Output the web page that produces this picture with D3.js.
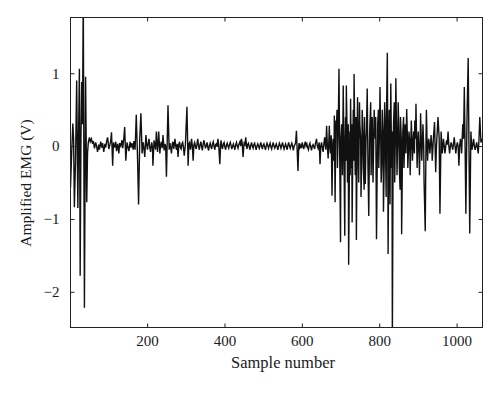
<!DOCTYPE html>
<html>
<head>
<meta charset="utf-8">
<script src="https://cdn.jsdelivr.net/npm/d3@7"></script>
<style>
  html, body { margin: 0; padding: 0; background: #fff; }
  svg { display: block; }
  text { font-family: "Liberation Serif", "DejaVu Serif", serif; fill: #1a1a1a; }
</style>
</head>
<body>
<div id="chart"></div>
<script>
// ---- data ----
const xTicks = [200, 400, 600, 800, 1000];
const yTicks = [-2, -1, 0, 1];
const xTitle = "Sample number";
const yTitle = "Amplified EMG (V)";
// [sample number, amplified EMG (V)]
const emgTrace = [
  [2,-0.57],[5,-0.1],[8,0.31],[10,0.1],[12,-0.84],[15,-0.2],[18,0.9],[21,-0.85],[23,0.2],[25,1.06],
  [27,-1.78],[29,0.1],[31,0.88],[33,0.3],[35,2.1],[38,-2.22],[41,0.95],[44,-0.77],[46,-0.1],[48,0.05],
  [51,0.12],[53,0.06],[56,0.1],[59,0.03],[61,0.07],[64,-0.03],[67,0.05],[69,0.01],[72,-0.08],[75,0.02],
  [77,-0.05],[80,0.06],[83,-0.02],[85,0.04],[88,-0.08],[91,0.03],[93,-0.02],[96,0.08],[98,0.12],[101,-0.04],
  [104,0.02],[106,0.07],[108,0.19],[111,-0.27],[113,0.05],[116,-0.02],[119,0.06],[121,-0.07],[124,0.03],[127,-0.1],
  [129,0.04],[132,0.0],[135,0.08],[137,-0.03],[140,0.12],[142,0.26],[145,-0.2],[148,0.05],[150,0.0],[153,-0.07],
  [156,0.06],[158,-0.02],[161,0.04],[164,-0.05],[166,0.07],[169,-0.05],
  [172,0.43],[175,-0.1],[178,-0.8],[181,0.1],[184,0.45],[187,-0.1],
  [190,0.05],[192,-0.04],[194,-0.15],[197,0.15],[199,0.02],[201,-0.05],[203,0.04],[205,0.1],[207,-0.02],[209,-0.08],
  [212,0.05],[214,-0.02],[215,-0.27],[218,0.08],[220,0.02],[222,-0.05],[224,0.2],[227,-0.08],[229,0.06],[230,0.2],
  [233,-0.1],[235,0.02],[237,0.06],[239,-0.03],[241,0.15],[244,-0.06],[246,0.03],[248,0.0],[250,-0.42],[254,0.56],
  [257,-0.05],[259,0.04],[261,-0.02],[263,-0.1],[265,0.03],[267,0.06],[269,-0.04],[272,0.1],[274,0.0],[276,-0.05],
  [278,0.03],[280,-0.15],[282,0.02],[284,0.06],[286,-0.02],[288,-0.04],[290,0.03],[292,0.05],[294,-0.02],[296,-0.13],
  [299,0.02],[303,0.54],[306,-0.27],[308,0.03],[310,0.05],[312,-0.05],[314,0.02],[315,0.1],[317,0.0],[319,-0.2],
  [321,0.02],[323,0.05],[325,-0.01],[327,-0.04],[329,0.03],[331,0.1],[333,0.0],[335,-0.05],[337,0.02],[339,0.06],
  [341,-0.01],[343,-0.06],[345,0.03],[347,0.08],[349,0.02],[351,-0.03],[353,0.01],[355,0.05],[357,-0.02],[359,-0.06],
  [361,0.01],[363,0.04],[365,-0.01],[367,-0.04],[369,0.03],[371,0.06],[373,0.0],[375,-0.05],[377,0.02],[379,0.03],
  [381,-0.01],[383,0.1],[385,0.02],[388,-0.25],[390,0.02],[391,0.08],[393,0.0],[395,-0.04],[397,0.03],[399,0.05],
  [401,-0.01],[403,-0.05],[405,0.01],[407,0.04],[409,0.0],[411,-0.03],[413,0.02],[415,0.05],[417,0.01],[419,-0.04],
  [421,0.0],[423,0.03],[425,-0.01],[427,-0.05],[429,0.02],[431,0.05],[433,0.0],[435,-0.03],[437,0.02],[440,0.06],
  [442,0.0],[444,0.1],[446,0.03],[448,-0.15],[450,0.0],[451,0.04],[453,0.02],[455,0.12],[457,0.01],[458,-0.04],
  [460,0.02],[462,0.04],[464,-0.01],[466,-0.05],[468,0.01],[470,0.05],[472,0.0],[474,-0.03],[476,0.02],[478,0.04],
  [480,-0.01],[482,-0.05],[484,0.0],[486,0.03],[488,0.0],[490,-0.03],[492,0.01],[494,0.05],[496,0.0],[498,-0.04],
  [500,0.01],[502,0.03],[504,-0.01],[506,-0.05],[508,0.0],[510,0.04],[512,0.01],[514,-0.03],[516,0.01],[518,0.04],
  [520,-0.01],[522,-0.04],[524,0.01],[526,0.05],[528,0.0],[530,-0.03],[532,0.0],[534,0.03],[536,-0.01],[538,-0.05],
  [540,0.0],[542,0.04],[544,0.01],[546,-0.03],[548,0.01],[550,0.05],[552,0.0],[554,-0.04],[556,0.0],[558,0.03],
  [560,-0.01],[562,-0.05],[564,0.01],[566,0.05],[568,0.0],[570,-0.03],[572,0.01],[574,0.04],[576,0.0],[578,-0.06],
  [580,0.0],[582,0.02],[584,0.05],[586,0.21],[590,-0.34],[592,0.0],[593,0.04],[595,-0.02],[597,0.01],[599,-0.03],
  [601,0.05],[603,0.0],[605,-0.04],[607,0.02],[609,0.06],[611,0.0],[613,0.03],[615,-0.02],[617,-0.05],[619,0.01],
  [621,0.04],[623,-0.01],[625,-0.06],[627,0.0],[629,0.02],[631,-0.01],[633,-0.04],[635,0.03],[638,0.1],[640,0.0],
  [642,-0.03],[645,0.05],[647,-0.25],[649,0.0],[651,0.05],[653,-0.02],[655,-0.08],[657,0.03],[659,0.12],[662,-0.05],
  [664,0.28],[666,0.0],[668,-0.17],[670,0.1],[671,0.28],[673,-0.05],[674,-0.1],[676,0.15],[678,-0.68],[680,0.05],
  [681,0.1],[683,-0.2],[684,0.42],[686,-0.77],[688,0.35],[689,0.2],[691,0.5],[692,-0.3],[694,0.2],[696,1.06],
  [698,-0.2],[700,-1.32],[701,0.1],[703,0.3],[705,-0.4],[707,0.83],[709,-0.2],[711,-1.23],[712,0.1],[713,0.4],
  [714,-0.2],[715,0.83],[717,0.2],[718,-0.5],[720,0.3],[721,-1.63],[723,-0.3],[724,0.2],[725,-0.4],[726,0.65],
  [728,-0.3],[729,0.3],[730,-1.05],[732,0.1],[733,0.5],[734,-0.2],[735,0.99],[737,0.1],[738,-0.4],[740,0.4],
  [741,-1.29],[743,0.1],[744,0.67],[746,-0.2],[747,-0.5],[749,0.6],[750,0.3],[752,0.1],[753,-0.7],[755,-0.1],
  [756,0.5],[758,0.2],[759,-0.3],[761,-0.6],[762,0.4],[764,-0.52],[766,0.1],[767,0.2],[769,0.79],[771,-0.3],
  [773,-0.96],[775,0.1],[776,0.3],[778,0.6],[779,-0.4],[781,0.1],[782,0.4],[784,-0.5],[785,-0.2],[787,0.5],
  [788,0.3],[790,0.1],[791,0.4],[793,-1.28],[795,-0.2],[796,0.3],[798,0.5],[799,-0.3],[801,0.3],[802,0.81],
  [804,0.1],[805,-0.5],[807,-0.2],[808,0.5],[810,0.2],[811,-0.9],[813,-0.2],[814,0.6],[816,0.2],[817,-0.3],
  [818,-0.7],[819,0.5],[821,1.28],[822,0.2],[823,-1.48],[825,0.2],[826,0.5],[827,-0.2],[828,-0.8],[829,0.3],
  [830,0.86],[832,-0.3],[833,0.2],[834,-2.7],[836,0.0],[837,0.3],[839,0.6],[840,-0.5],[842,0.2],[843,0.93],
  [845,0.1],[846,-0.4],[848,0.1],[849,0.6],[851,0.2],[852,-0.3],[854,-0.6],[855,0.4],[857,0.1],[858,-1.21],
  [860,-0.2],[861,0.2],[863,0.4],[864,-0.3],[866,0.1],[867,0.3],[869,-0.1],[871,0.51],[873,0.1],[874,-0.3],
  [876,0.0],[877,0.2],[879,0.05],[880,-0.4],[882,0.1],[883,0.35],[885,0.0],[886,-0.2],[888,0.1],[889,0.2],
  [891,-0.1],[892,0.35],[894,0.1],[895,0.58],[897,0.0],[898,-0.3],[900,0.1],[901,0.2],[903,-0.1],[904,-0.4],
  [906,0.1],[907,0.45],[909,0.0],[910,-0.2],[912,0.1],[913,0.3],[915,0.0],[916,-0.5],[919,-1.17],[921,0.1],
  [922,0.5],[924,0.0],[925,-0.2],[927,0.05],[928,0.1],[930,0.0],[931,-0.1],[933,0.05],[934,0.15],[936,0.0],
  [937,-0.2],[939,0.0],[940,0.1],[943,0.33],[946,-0.36],[948,0.0],[949,0.1],[952,0.4],[955,0.1],[957,-0.93],
  [960,0.2],[962,0.0],[963,-0.1],[965,0.02],[966,0.1],[968,0.0],[970,-0.1],[972,0.0],[974,0.08],[976,0.02],
  [978,0.2],[980,0.0],[982,-0.1],[984,0.0],[986,0.05],[988,0.0],[990,-0.05],[992,0.03],[994,0.12],[996,0.0],
  [998,-0.1],[1000,0.0],[1002,0.05],[1004,0.0],[1006,-0.27],[1008,0.0],[1010,0.1],[1012,0.0],[1013,-0.1],[1016,0.3],
  [1018,0.1],[1020,0.81],[1022,0.0],[1024,-0.93],[1027,0.4],[1030,1.21],[1032,0.0],[1034,-1.2],[1037,0.2],[1039,0.0],
  [1040,-0.05],[1042,0.02],[1044,0.1],[1046,0.0],[1048,-0.05],[1050,0.0],[1052,0.05],[1054,-0.02],[1056,-0.1],[1058,0.1],
  [1060,0.4],[1063,0.05],[1066,0.1]
];
const xDomain = [2, 1067];
const yDomain = [-2.49, 1.765];

// ---- layout ----
const W = 500, H = 393;
const L = 70.5, R = 482.5, T = 17.5, B = 327.5;

const svg = d3.select("#chart").append("svg")
  .attr("width", W).attr("height", H);

const x = d3.scaleLinear().domain(xDomain).range([L, R]);
const y = d3.scaleLinear().domain(yDomain).range([B, T]);

svg.append("defs").append("clipPath").attr("id", "clip")
  .append("rect").attr("x", L).attr("y", T).attr("width", R - L).attr("height", B - T);

const line = d3.line().x(d => x(d[0])).y(d => y(d[1]));
svg.append("path")
  .datum(emgTrace)
  .attr("clip-path", "url(#clip)")
  .attr("fill", "none")
  .attr("stroke", "#111")
  .attr("stroke-width", 1.4)
  .attr("stroke-linejoin", "miter")
  .attr("d", line);

const fmt = d => d < 0 ? "\u2212" + Math.abs(d) : String(d);
const tickLen = 4;

// bottom axis
const gB = svg.append("g").attr("transform", `translate(0,${B})`)
  .call(d3.axisBottom(x).tickValues(xTicks).tickSize(-tickLen).tickPadding(8).tickFormat(fmt));
// top axis (ticks only)
const gT = svg.append("g").attr("transform", `translate(0,${T})`)
  .call(d3.axisTop(x).tickValues(xTicks).tickSize(-tickLen).tickFormat(""));
// left axis
const gL = svg.append("g").attr("transform", `translate(${L},0)`)
  .call(d3.axisLeft(y).tickValues(yTicks).tickSize(-tickLen).tickPadding(11).tickFormat(fmt));
// right axis (ticks only)
const gR = svg.append("g").attr("transform", `translate(${R},0)`)
  .call(d3.axisRight(y).tickValues(yTicks).tickSize(-tickLen).tickFormat(""));

[gB, gT, gL, gR].forEach(g => {
  g.select(".domain").remove();
  g.selectAll(".tick line").attr("stroke", "#222").attr("stroke-width", 1);
  g.selectAll("text").attr("font-size", 15).attr("fill", "#1a1a1a")
    .attr("font-family", "'Liberation Serif', 'DejaVu Serif', serif");
});

// frame
svg.append("rect")
  .attr("x", L).attr("y", T).attr("width", R - L).attr("height", B - T)
  .attr("fill", "none").attr("stroke", "#222").attr("stroke-width", 1);

// titles
svg.append("text")
  .attr("x", 283).attr("y", 368)
  .attr("text-anchor", "middle")
  .attr("font-size", 16.5)
  .text(xTitle);

svg.append("text")
  .attr("transform", `translate(31,183) rotate(-90)`)
  .attr("text-anchor", "middle")
  .attr("font-size", 15.5)
  .text(yTitle);
</script>
</body>
</html>
